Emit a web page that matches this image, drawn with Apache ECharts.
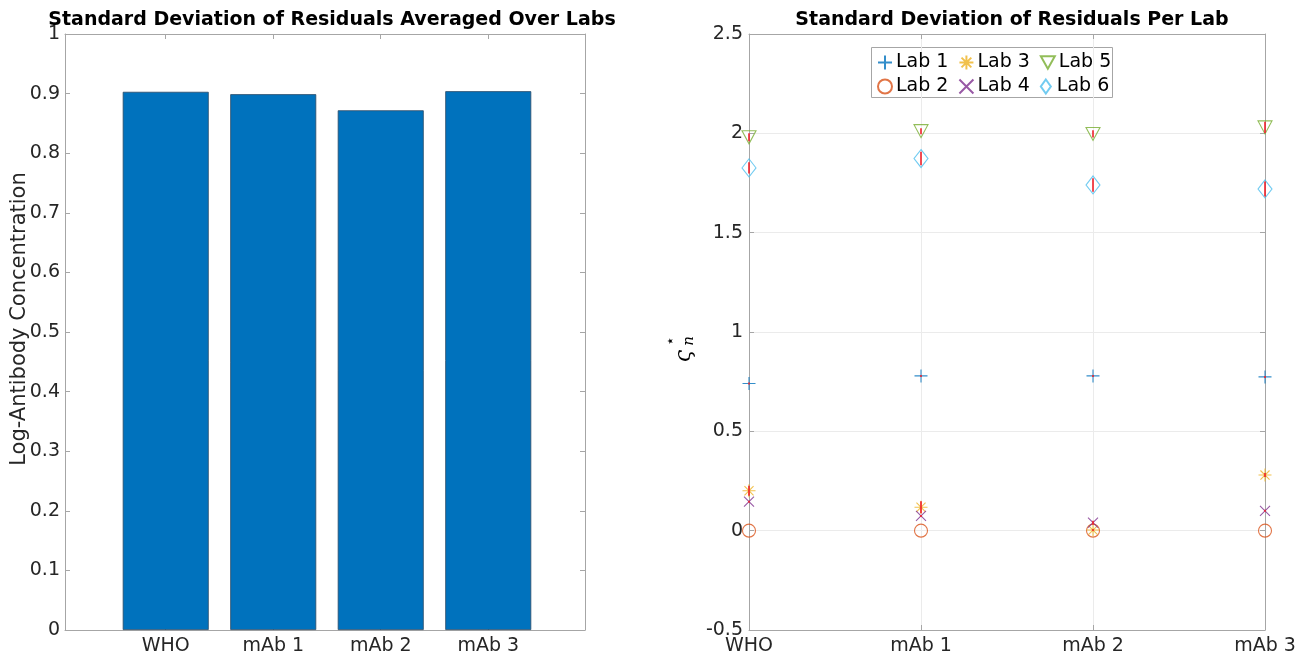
<!DOCTYPE html>
<html>
<head>
<meta charset="utf-8">
<script src="https://cdn.jsdelivr.net/npm/echarts@6/dist/echarts.min.js"></script>
<style>
  html, body { margin: 0; padding: 0; background: #fff; }
  #chart { width: 1306px; height: 656px; }
</style>
</head>
<body>
<div id="chart"></div>
<script>
// Samples (standards) on the horizontal axes
const categories = ['WHO', 'mAb 1', 'mAb 2', 'mAb 3'];

// Left panel: residual SD averaged over all labs
const avgSD = [0.903, 0.899, 0.872, 0.904];

// Right panel: residual SD for each lab
const labNames = ['Lab 1', 'Lab 2', 'Lab 3', 'Lab 4', 'Lab 5', 'Lab 6'];
const lab1 = [0.741, 0.779, 0.779, 0.774];
const lab2 = [0, 0, 0, 0];
const lab3 = [0.201, 0.118, 0.003, 0.280];
const lab4 = [0.146, 0.074, 0.040, 0.100];
const lab5 = [1.980, 2.011, 1.997, 2.030];
const lab6 = [1.826, 1.873, 1.740, 1.720];

// Half-widths of the uncertainty bars drawn through each marker
const err1 = [0.005, 0.005, 0.005, 0.005];
const err2 = [0, 0, 0, 0];
const err3 = [0.025, 0.030, 0.005, 0.010];
const err4 = [0.005, 0.005, 0.010, 0.005];
const err5 = [0.020, 0.015, 0.018, 0.028];
const err6 = [0.028, 0.034, 0.034, 0.038];

// Tick values
const leftTicks = [0, 0.1, 0.2, 0.3, 0.4, 0.5, 0.6, 0.7, 0.8, 0.9, 1];
const rightTicks = [-0.5, 0, 0.5, 1, 1.5, 2, 2.5];

const labValues = [lab1, lab2, lab3, lab4, lab5, lab6];
const labErrors = [err1, err2, err3, err4, err5, err6];
const labColors = ['#0072BD', '#D95319', '#EDB120', '#7E2F8E', '#77AC30', '#4DBEEE'];

// Marker outlines in the style of MATLAB's +, o, *, x, v and diamond
const labSymbols = [
  'path://M0,5 L10,5 M5,0 L5,10',
  'path://M10,5 A5,5 0 1 1 0,5 A5,5 0 1 1 10,5 Z',
  'path://M0,5 L10,5 M5,0 L5,10 M1.5,1.5 L8.5,8.5 M8.5,1.5 L1.5,8.5',
  'path://M0,0 L10,10 M10,0 L0,10',
  'path://M0,0 L10,0 L5,9 Z',
  'path://M5,0 L10,7 L5,14 L0,7 Z'
];
const labSizes = [[13, 13], [13, 13], [13, 13], [10, 10], [14, 13], [14, 18]];

const FONT = 'DejaVu Sans';
const TXT = '#262626';
const AXIS = '#a6a6a6';
const FS = 19;

function fmt(v) {
  return String(Math.round(v * 10) / 10);
}

const chart = echarts.init(document.getElementById('chart'), null, { renderer: 'canvas' });

const barX = avgSD.map((v, i) => [i + 1, v]);

const scatterSeries = labNames.map((name, k) => ({
  name: name,
  type: 'scatter',
  xAxisIndex: 2,
  yAxisIndex: 2,
  symbol: labSymbols[k],
  symbolSize: labSizes[k],
  itemStyle: { color: 'rgba(0,0,0,0)', borderColor: labColors[k], borderWidth: 1.1 },
  emphasis: { disabled: true },
  data: labValues[k],
  z: 3
}));

const errorSeries = labNames.map((name, k) => ({
  type: 'custom',
  xAxisIndex: 2,
  yAxisIndex: 2,
  silent: true,
  z: 4,
  data: labValues[k].map((v, i) => [i, v, labErrors[k][i]]),
  renderItem: function (params, api) {
    const x = api.value(0);
    const y = api.value(1);
    const e = api.value(2);
    if (!e) return null;
    const p1 = api.coord([x, y + e]);
    const p2 = api.coord([x, y - e]);
    return {
      type: 'line',
      shape: { x1: p1[0], y1: p1[1], x2: p2[0], y2: p2[1] },
      style: { stroke: '#f0202a', lineWidth: 1.6 }
    };
  }
}));

const legendStyle = {
  orient: 'horizontal',
  itemWidth: 14,
  itemHeight: 14,
  itemGap: 10,
  selectedMode: false,
  textStyle: { fontFamily: FONT, fontSize: FS, color: '#000', padding: [0, 0, 0, -1] }
};

const option = {
  backgroundColor: '#fff',
  animation: false,
  title: [
    {
      text: 'Standard Deviation of Residuals Averaged Over Labs',
      left: 327, top: 6, textAlign: 'center',
      textStyle: { fontFamily: FONT, fontWeight: 'bold', fontSize: FS, color: '#000' }
    },
    {
      text: 'Standard Deviation of Residuals Per Lab',
      left: 1007, top: 6, textAlign: 'center',
      textStyle: { fontFamily: FONT, fontWeight: 'bold', fontSize: FS, color: '#000' }
    }
  ],
  legend: [
    Object.assign({}, legendStyle, {
      left: 872, top: 48,
      data: ['Lab 1', 'Lab 3', 'Lab 5']
    }),
    Object.assign({}, legendStyle, {
      left: 872, top: 72,
      data: ['Lab 2', 'Lab 4', 'Lab 6']
    })
  ],
  grid: [
    { left: 65, top: 34, width: 520, height: 596, containLabel: false },
    { left: 749, top: 34, width: 516, height: 596, containLabel: false }
  ],
  xAxis: [
    {
      gridIndex: 0, type: 'value', position: 'bottom',
      min: 0.063, max: 4.9,
      axisLine: { show: true, onZero: false, lineStyle: { color: AXIS, width: 1 } },
      axisTick: { show: true, inside: true, length: 5, customValues: [1, 2, 3, 4], lineStyle: { color: AXIS } },
      axisLabel: {
        show: true, customValues: [1, 2, 3, 4], margin: 7,
        fontFamily: FONT, fontSize: FS, color: TXT,
        formatter: v => categories[Math.round(v) - 1] || ''
      },
      splitLine: { show: false }
    },
    {
      gridIndex: 0, type: 'value', position: 'top',
      min: 0.063, max: 4.9,
      axisLine: { show: true, onZero: false, lineStyle: { color: AXIS, width: 1 } },
      axisTick: { show: true, inside: true, length: 5, customValues: [1, 2, 3, 4], lineStyle: { color: AXIS } },
      axisLabel: { show: false },
      splitLine: { show: false }
    },
    {
      gridIndex: 1, type: 'category', position: 'bottom',
      data: categories, boundaryGap: false,
      axisLine: { show: true, onZero: false, lineStyle: { color: AXIS, width: 1 } },
      axisTick: { show: true, inside: true, length: 5, alignWithLabel: true, lineStyle: { color: AXIS } },
      axisLabel: { show: true, margin: 7, fontFamily: FONT, fontSize: FS, color: TXT, interval: 0 },
      splitLine: { show: true, lineStyle: { color: '#ebebeb', width: 1 } }
    },
    {
      gridIndex: 1, type: 'category', position: 'top',
      data: categories, boundaryGap: false,
      axisLine: { show: true, onZero: false, lineStyle: { color: AXIS, width: 1 } },
      axisTick: { show: true, inside: true, length: 5, lineStyle: { color: AXIS } },
      axisLabel: { show: false },
      splitLine: { show: false }
    }
  ],
  yAxis: [
    {
      gridIndex: 0, type: 'value', position: 'left',
      min: 0, max: 1, interval: 0.1,
      name: 'Log-Antibody Concentration', nameLocation: 'middle', nameGap: 35,
      nameMoveOverlap: false,
      nameTextStyle: { fontFamily: FONT, fontSize: 21, color: TXT, padding: [0, 0, 0, 26] },
      axisLine: { show: true, lineStyle: { color: AXIS, width: 1 } },
      axisTick: { show: true, inside: true, length: 5, lineStyle: { color: AXIS } },
      axisLabel: { margin: 5, fontFamily: FONT, fontSize: FS, color: TXT, formatter: fmt },
      splitLine: { show: false }
    },
    {
      gridIndex: 0, type: 'value', position: 'right',
      min: 0, max: 1, interval: 0.1,
      axisLine: { show: true, lineStyle: { color: AXIS, width: 1 } },
      axisTick: { show: true, inside: true, length: 5, lineStyle: { color: AXIS } },
      axisLabel: { show: false },
      splitLine: { show: false }
    },
    {
      gridIndex: 1, type: 'value', position: 'left',
      min: -0.5, max: 2.5, interval: 0.5,
      axisLine: { show: true, onZero: false, lineStyle: { color: AXIS, width: 1 } },
      axisTick: { show: true, inside: true, length: 5, lineStyle: { color: AXIS } },
      axisLabel: { margin: 6, fontFamily: FONT, fontSize: FS, color: TXT, formatter: fmt },
      splitLine: { show: true, lineStyle: { color: '#ebebeb', width: 1 } }
    },
    {
      gridIndex: 1, type: 'value', position: 'right',
      min: -0.5, max: 2.5, interval: 0.5,
      axisLine: { show: true, onZero: false, lineStyle: { color: AXIS, width: 1 } },
      axisTick: { show: true, inside: true, length: 5, lineStyle: { color: AXIS } },
      axisLabel: { show: false },
      splitLine: { show: false }
    }
  ],
  graphic: [
    // legend frame
    {
      type: 'rect', left: 871, top: 47, z: 0, silent: true,
      shape: { width: 241, height: 50 },
      style: { fill: '#fff', stroke: '#a6a6a6', lineWidth: 1 }
    },
    // y-axis symbol of the right panel: varsigma with star superscript and n subscript
    {
      type: 'text', x: 684, y: 356, rotation: Math.PI / 2, silent: true,
      style: {
        text: 'ς', font: 'italic 22px "DejaVu Serif"', fill: '#000',
        textAlign: 'center', textVerticalAlign: 'middle'
      }
    },
    {
      type: 'text', x: 671, y: 341, rotation: Math.PI / 2, silent: true,
      style: {
        text: '⋆', font: '15px "DejaVu Sans"', fill: '#000',
        textAlign: 'center', textVerticalAlign: 'middle'
      }
    },
    {
      type: 'text', x: 689, y: 341, rotation: Math.PI / 2, silent: true,
      style: {
        text: 'n', font: 'italic 15px "DejaVu Serif"', fill: '#000',
        textAlign: 'center', textVerticalAlign: 'middle'
      }
    }
  ],
  series: [
    {
      type: 'bar',
      xAxisIndex: 0,
      yAxisIndex: 0,
      barWidth: 86,
      data: barX,
      itemStyle: { color: '#0072BD', borderColor: '#2b4a66', borderWidth: 0.8 },
      emphasis: { disabled: true },
      silent: true
    }
  ].concat(scatterSeries, errorSeries)
};

chart.setOption(option);
</script>
</body>
</html>
